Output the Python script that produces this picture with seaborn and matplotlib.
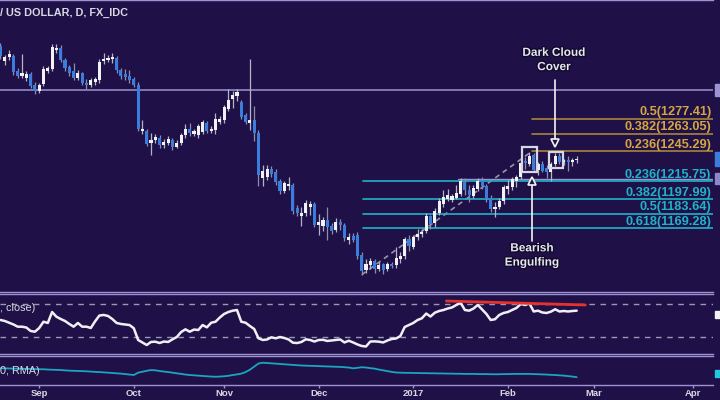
import numpy as np
import pandas as pd
import matplotlib
matplotlib.use("Agg")
import matplotlib.pyplot as plt
import matplotlib.patheffects as pe
from matplotlib.patches import Rectangle
import seaborn as sns

# ---------------- data ----------------
opens = [1350, 1335, 1339, 1340, 1325, 1320, 1318, 1322, 1311, 1305,
         1312, 1325, 1327, 1346, 1348, 1336, 1329, 1325, 1318, 1323,
         1313, 1311, 1314, 1316, 1335, 1336, 1337, 1338, 1326, 1322,
         1320, 1317, 1311, 1266, 1266, 1254, 1257, 1259, 1252, 1254,
         1257, 1250, 1254, 1262, 1268, 1263, 1262, 1265, 1273, 1266,
         1267, 1274, 1276, 1287, 1297, 1300, 1294, 1281, 1273, 1276,
         1264, 1219, 1220, 1228, 1225, 1216, 1206, 1211, 1212, 1189,
         1181, 1184, 1190, 1193, 1172, 1171, 1177, 1171, 1167, 1175,
         1172, 1157, 1161, 1162, 1143, 1128, 1133, 1137, 1129, 1134,
         1129, 1134, 1133, 1139, 1142, 1158, 1150, 1160, 1163, 1166,
         1181, 1174, 1184, 1193, 1198, 1197, 1199, 1203, 1215, 1207,
         1201, 1208, 1216, 1211, 1199, 1188, 1190, 1196, 1208, 1210,
         1216, 1220, 1236, 1233, 1242, 1227, 1233, 1229, 1225, 1233,
         1241, 1235, 1237, 1235, 1237]
highs = [1353, 1341, 1346, 1342, 1328, 1342, 1325, 1324, 1314, 1313,
         1330, 1330, 1352, 1352, 1351, 1338, 1331, 1333, 1326, 1324,
         1317, 1318, 1319, 1337, 1343, 1341, 1343, 1340, 1328, 1327,
         1326, 1319, 1314, 1276, 1268, 1264, 1263, 1262, 1258, 1261,
         1259, 1257, 1264, 1272, 1273, 1268, 1272, 1276, 1275, 1270,
         1283, 1280, 1291, 1307, 1305, 1307, 1296, 1283, 1337, 1290,
         1267, 1232, 1232, 1231, 1228, 1218, 1216, 1220, 1214, 1192,
         1190, 1197, 1196, 1195, 1183, 1180, 1190, 1174, 1179, 1178,
         1174, 1164, 1164, 1165, 1145, 1139, 1140, 1139, 1136, 1135,
         1136, 1136, 1150, 1145, 1160, 1162, 1162, 1168, 1168, 1184,
         1182, 1189, 1199, 1207, 1208, 1203, 1212, 1219, 1219, 1212,
         1212, 1219, 1220, 1213, 1202, 1195, 1199, 1212, 1217, 1220,
         1222, 1236, 1240, 1245, 1244, 1235, 1236, 1232, 1235, 1244,
         1244, 1238, 1241, 1239, 1241]
lows = [1337, 1331, 1336, 1321, 1318, 1318, 1315, 1308, 1302, 1303,
        1310, 1323, 1325, 1343, 1334, 1325, 1320, 1316, 1316, 1311,
        1307, 1309, 1311, 1313, 1332, 1334, 1333, 1323, 1317, 1316,
        1313, 1309, 1266, 1263, 1251, 1242, 1254, 1249, 1249, 1252,
        1247, 1249, 1252, 1259, 1261, 1261, 1259, 1263, 1264, 1264,
        1263, 1272, 1273, 1285, 1288, 1295, 1277, 1272, 1267, 1256,
        1211, 1211, 1217, 1220, 1212, 1203, 1204, 1207, 1183, 1181,
        1171, 1181, 1182, 1170, 1162, 1166, 1157, 1163, 1165, 1167,
        1156, 1153, 1155, 1139, 1123, 1125, 1129, 1125, 1127, 1124,
        1127, 1130, 1130, 1135, 1139, 1146, 1148, 1157, 1160, 1164,
        1168, 1170, 1182, 1190, 1196, 1195, 1198, 1201, 1202, 1195,
        1199, 1206, 1208, 1195, 1185, 1180, 1188, 1193, 1203, 1207,
        1210, 1218, 1228, 1231, 1225, 1222, 1225, 1219, 1216, 1231,
        1233, 1232, 1226, 1231, 1234]
closes = [1340, 1339, 1342, 1324, 1320, 1323, 1322, 1310, 1305, 1311,
          1327, 1328, 1349, 1348, 1336, 1328, 1323, 1318, 1323, 1313,
          1311, 1316, 1317, 1334, 1337, 1338, 1339, 1326, 1320, 1319,
          1316, 1311, 1268, 1268, 1253, 1257, 1260, 1252, 1255, 1258,
          1250, 1254, 1262, 1268, 1264, 1266, 1270, 1274, 1266, 1268,
          1277, 1277, 1289, 1296, 1301, 1304, 1279, 1274, 1276, 1264,
          1222, 1226, 1228, 1223, 1215, 1206, 1214, 1213, 1186, 1184,
          1184, 1194, 1193, 1172, 1175, 1177, 1170, 1166, 1175, 1172,
          1159, 1160, 1157, 1142, 1127, 1134, 1137, 1129, 1133, 1128,
          1134, 1132, 1140, 1142, 1158, 1151, 1160, 1163, 1165, 1181,
          1173, 1186, 1196, 1200, 1202, 1201, 1204, 1216, 1207, 1202,
          1209, 1216, 1211, 1198, 1188, 1190, 1196, 1210, 1211, 1218,
          1220, 1234, 1234, 1241, 1227, 1233, 1226, 1225, 1233, 1241,
          1235, 1237, 1235, 1237, 1238]
rsi = [50.6, 49.4, 47.3, 45.2, 42.5, 42.5, 41.5, 37.3, 36.4, 40.9,
       48.5, 47.0, 60.3, 54.6, 51.8, 49.4, 45.8, 42.5, 47.0, 42.5,
       42.5, 40.9, 49.0, 56.0, 56.7, 55.5, 51.8, 47.0, 45.8, 45.2,
       44.5, 40.6, 26.4, 23.4, 20.3, 24.0, 24.3, 22.7, 24.5, 24.0,
       27.2, 30.0, 36.0, 39.3, 36.4, 39.0, 38.5, 44.5, 41.7, 47.3,
       48.5, 53.6, 57.9, 60.3, 61.9, 62.7, 48.5, 47.3, 43.3, 39.7,
       28.4, 26.4, 27.0, 29.6, 28.4, 30.0, 28.8, 27.0, 23.1, 22.7,
       24.0, 27.2, 26.4, 24.5, 26.4, 26.6, 25.2, 25.8, 26.4, 27.0,
       23.4, 25.5, 23.4, 21.0, 19.1, 18.5, 24.5, 24.7, 24.3, 23.4,
       25.8, 27.6, 28.2, 31.2, 42.1, 44.5, 47.0, 50.6, 52.7, 58.4,
       54.8, 59.4, 61.5, 62.7, 64.5, 65.8, 68.8, 71.6, 62.7, 61.9,
       64.5, 68.8, 63.3, 57.9, 50.6, 51.5, 56.7, 59.1, 60.3, 62.7,
       65.2, 70.0, 68.8, 70.8, 60.9, 61.9, 59.7, 59.1, 60.7, 63.6,
       60.9, 61.5, 60.9, 61.5, 61.9]
atr = [18.4, 18.4, 18.3, 18.2, 18.2, 18.1, 18.0, 18.0, 17.9, 17.8,
       17.8, 17.6, 17.5, 17.4, 17.3, 17.1, 16.9, 16.8, 16.7, 16.6,
       16.5, 16.3, 16.1, 16.0, 15.8, 15.6, 15.4, 15.2, 15.0, 14.7,
       14.4, 14.1, 15.6, 16.2, 16.8, 17.3, 17.1, 16.7, 16.3, 16.0,
       15.6, 15.2, 14.8, 14.4, 14.1, 13.9, 13.7, 13.5, 13.3, 13.1,
       13.0, 13.1, 13.3, 13.6, 14.1, 14.5, 15.0, 16.0, 17.5, 19.5,
       21.5, 22.0, 21.8, 21.6, 21.4, 21.2, 21.0, 20.8, 20.6, 20.4,
       20.2, 20.1, 20.0, 19.9, 19.8, 19.7, 19.6, 19.5, 19.4, 19.3,
       19.1, 18.9, 18.4, 18.7, 19.1, 18.9, 18.5, 18.2, 17.6, 17.1,
       16.6, 16.1, 15.7, 15.6, 15.5, 15.5, 15.4, 15.4, 15.3, 15.3,
       15.2, 15.2, 15.1, 15.1, 15.0, 15.0, 14.9, 14.9, 14.8, 14.8,
       14.8, 14.7, 14.7, 14.7, 14.6, 14.6, 14.6, 14.7, 14.7, 14.8,
       14.8, 14.8, 14.8, 14.8, 14.7, 14.6, 14.5, 14.4, 14.2, 14.1,
       13.9, 13.7, 13.4, 13.1, 12.7]

month_ticks = [9, 31, 52, 74, 96, 118, 138, 161]
month_labels = ["Sep", "Oct", "Nov", "Dec", "2017", "Feb", "Mar", "Apr"]

resistance_level = 1306.2
support_level = 1218.2
fib_low, fib_high = 1122.9, 1244.5
fib_low_idx, fib_high_idx = 84, 123.3
fib_ret_names = ["0.236", "0.382", "0.5", "0.618"]
fib_ret_levels = [1215.75, 1197.99, 1183.64, 1169.28]
fib_ext_names = ["0.5", "0.382", "0.236"]
fib_ext_levels = [1277.41, 1263.05, 1245.29]
rsi_trend = ([103.7, 136.0], [73.6, 68.8])

# ---------------- styling ----------------
sns.set_theme(style="dark")
plt.rcParams["font.family"] = ["Liberation Sans", "DejaVu Sans"]

BG = "#1f1148"
LAV = "#9d93d3"
TXT = "#d8d8e2"
CYAN = "#1fb3c8"
GOLD_L = "#a8843c"
GOLD_T = "#d4a640"
BLUE = "#3b7ddd"
WHITE = "#f2f2f4"

W, H = 720, 400
fig = plt.figure(figsize=(7.2, 4.0), dpi=100, facecolor=BG)


def axes_px(x0, y0, x1, y1):
    a = fig.add_axes([x0 / W, 1 - y1 / H, (x1 - x0) / W, (y1 - y0) / H])
    a.set_facecolor(BG)
    a.grid(False)
    for s in ("left", "right"):
        a.spines[s].set_visible(False)
    for s in ("top", "bottom"):
        a.spines[s].set_color(LAV)
        a.spines[s].set_linewidth(1.0)
    a.set_xlim(-0.116, 165.7)
    a.set_yticks([])
    return a


ax = axes_px(0, 0, 713, 292)
ax_rsi = axes_px(0, 294, 713, 354)
ax_atr = axes_px(0, 356, 713, 385)
ax.set_ylim(1105.8, 1395.5)
ax_rsi.set_ylim(9.4, 82.1)
ax_atr.set_ylim(7.7, 26.3)
for a in (ax, ax_rsi):
    a.set_xticks([])

# ---------------- candles ----------------
df = pd.DataFrame({"i": np.arange(len(closes)), "o": opens, "h": highs,
                   "l": lows, "c": closes})
up = (df.c >= df.o).values
ax.vlines(df.i[up], df.l[up], df.h[up], colors="#b4b4c4", lw=0.9, zorder=3)
ax.vlines(df.i[~up], df.l[~up], df.h[~up], colors="#8c8cab", lw=0.9, zorder=3)
bottom = np.minimum(df.o, df.c)
height = np.maximum((df.c - df.o).abs(), 1.0)
ax.bar(df.i, height, bottom=bottom, width=0.74,
       color=np.where(up, WHITE, BLUE), linewidth=0, zorder=4)

# ---------------- lines / levels ----------------
xmax = 165.7
ax.axhline(resistance_level, color=LAV, lw=1.1, zorder=2)
ax.plot([106.5, xmax], [support_level] * 2, color=LAV, lw=1.0, zorder=2)
ax.plot([fib_low_idx, fib_high_idx], [fib_low, fib_high], color="#9696a6",
        lw=1.2, ls=(0, (3, 2.5)), zorder=2)
for name, lev in zip(fib_ret_names, fib_ret_levels):
    ax.plot([84.3, xmax], [lev, lev], color=CYAN, lw=1.2, zorder=2)
    ax.text(165.3, lev + 6.4, f"{name}({lev:.2f})", color=CYAN, fontsize=9.2,
            fontweight="bold", ha="right", va="center", zorder=6)
for name, lev in zip(fib_ext_names, fib_ext_levels):
    ax.plot([123.6, xmax], [lev, lev], color=GOLD_L, lw=1.2, zorder=2)
    ax.text(165.3, lev + 6.8, f"{name}({lev:.2f})", color=GOLD_T, fontsize=9.2,
            fontweight="bold", ha="right", va="center", zorder=6)

# pattern boxes
for (x0, x1, y0, y1) in [(121.3, 124.8, 1224.9, 1249.7),
                         (127.6, 130.8, 1228.8, 1244.7)]:
    ax.add_patch(Rectangle((x0, y0), x1 - x0, y1 - y0, fill=False,
                           ec="#d6d6e4", lw=1.6, zorder=5))


def py(ypx):
    return 1395.5 - 0.992 * ypx


stroke = [pe.withStroke(linewidth=2, foreground="#120a2c")]
# Dark Cloud Cover arrow
ax.plot([129.0, 129.0], [py(80), py(141)], color=WHITE, lw=1.2, zorder=6)
ax.plot([129.0], [py(143.5)], marker="v", ms=6, mfc=BG, mec=WHITE, mew=1.2,
        zorder=7)
ax.text(128.7, py(60), "Dark Cloud\nCover", color="#e6e6ee", fontsize=8.5,
        fontweight="bold", ha="center", va="center", linespacing=1.25,
        zorder=7, path_effects=stroke)
# Bearish Engulfing arrow
ax.plot([123.6, 123.6], [py(241), py(184)], color=WHITE, lw=1.2, zorder=6)
ax.plot([123.6], [py(181.5)], marker="^", ms=6, mfc=BG, mec=WHITE, mew=1.2,
        zorder=7)
ax.text(123.6, py(255.5), "Bearish\nEngulfing", color="#e6e6ee", fontsize=8.5,
        fontweight="bold", ha="center", va="center", linespacing=1.25,
        zorder=7, path_effects=stroke)

# ---------------- RSI panel ----------------
for lev in (70, 30):
    ax_rsi.axhline(lev, color="#9a9ab6", lw=1.0, ls=(0, (4, 4)), zorder=1)
sns.lineplot(x=np.arange(len(rsi)), y=rsi, ax=ax_rsi, color="#f0f0f4",
             lw=1.8, zorder=3)
sns.lineplot(x=rsi_trend[0], y=rsi_trend[1], ax=ax_rsi, color="#e8302c",
             lw=2.0, zorder=4)

# ---------------- ATR panel ----------------
sns.lineplot(x=np.arange(len(atr)), y=atr, ax=ax_atr, color="#1aa5c0",
             lw=1.3, zorder=3)
ax_atr.set_xticks(month_ticks)
ax_atr.set_xticklabels(month_labels)
ax_atr.tick_params(axis="x", colors=LAV, length=2.5, width=1, pad=0.5,
                   labelsize=6.8, labelcolor=TXT, bottom=True, direction="out")
for t in ax_atr.get_xticklabels():
    t.set_fontweight("bold")
for a in (ax, ax_rsi, ax_atr):
    a.set_xlabel("")
    a.set_ylabel("")
    a.set_xlim(-0.116, 165.7)

# ---------------- texts ----------------
fig.text(0.0, 1 - 13 / H, "/ US DOLLAR, D, FX_IDC", color=TXT, fontsize=7.8,
         fontweight="bold", va="center", ha="left")
fig.text(0.0, 1 - 308 / H, ", close)", color=TXT, fontsize=7.8,
         va="center", ha="left")
fig.text(0.0, 1 - 371 / H, "0, RMA)", color=TXT, fontsize=7.8,
         va="center", ha="left")

# right-edge value tags (cut off by the frame)
for (y0, y1, col) in [(84, 96, LAV), (152, 166, BLUE), (173, 184, "#8f86c8"),
                      (311, 318, WHITE), (370, 377, "#22c8e0")]:
    fig.patches.append(Rectangle((715 / W, 1 - y1 / H), 5 / W, (y1 - y0) / H,
                                 transform=fig.transFigure, color=col,
                                 zorder=10))

fig.savefig("out.png", dpi=100, facecolor=BG)
